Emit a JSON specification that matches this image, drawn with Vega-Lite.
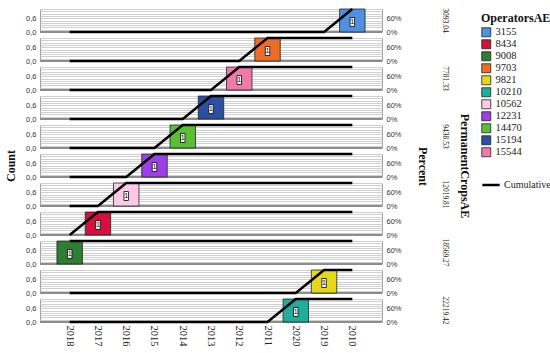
{
  "$schema": "https://vega.github.io/schema/vega-lite/v6.json",
  "padding": {"left": 4, "top": 4, "right": 0, "bottom": 0},
  "datasets": {
    "d": [
      {"op":"3155","year":"2018","count":0,"cum":0},{"op":"3155","year":"2017","count":0,"cum":0},{"op":"3155","year":"2016","count":0,"cum":0},{"op":"3155","year":"2015","count":0,"cum":0},{"op":"3155","year":"2014","count":0,"cum":0},{"op":"3155","year":"2013","count":0,"cum":0},{"op":"3155","year":"2012","count":0,"cum":0},{"op":"3155","year":"2011","count":0,"cum":0},{"op":"3155","year":"2020","count":0,"cum":0},{"op":"3155","year":"2019","count":0,"cum":0},{"op":"3155","year":"2010","count":1,"cum":1},
      {"op":"9703","year":"2018","count":0,"cum":0},{"op":"9703","year":"2017","count":0,"cum":0},{"op":"9703","year":"2016","count":0,"cum":0},{"op":"9703","year":"2015","count":0,"cum":0},{"op":"9703","year":"2014","count":0,"cum":0},{"op":"9703","year":"2013","count":0,"cum":0},{"op":"9703","year":"2012","count":0,"cum":0},{"op":"9703","year":"2011","count":1,"cum":1},{"op":"9703","year":"2020","count":0,"cum":1},{"op":"9703","year":"2019","count":0,"cum":1},{"op":"9703","year":"2010","count":0,"cum":1},
      {"op":"15544","year":"2018","count":0,"cum":0},{"op":"15544","year":"2017","count":0,"cum":0},{"op":"15544","year":"2016","count":0,"cum":0},{"op":"15544","year":"2015","count":0,"cum":0},{"op":"15544","year":"2014","count":0,"cum":0},{"op":"15544","year":"2013","count":0,"cum":0},{"op":"15544","year":"2012","count":1,"cum":1},{"op":"15544","year":"2011","count":0,"cum":1},{"op":"15544","year":"2020","count":0,"cum":1},{"op":"15544","year":"2019","count":0,"cum":1},{"op":"15544","year":"2010","count":0,"cum":1},
      {"op":"15194","year":"2018","count":0,"cum":0},{"op":"15194","year":"2017","count":0,"cum":0},{"op":"15194","year":"2016","count":0,"cum":0},{"op":"15194","year":"2015","count":0,"cum":0},{"op":"15194","year":"2014","count":0,"cum":0},{"op":"15194","year":"2013","count":1,"cum":1},{"op":"15194","year":"2012","count":0,"cum":1},{"op":"15194","year":"2011","count":0,"cum":1},{"op":"15194","year":"2020","count":0,"cum":1},{"op":"15194","year":"2019","count":0,"cum":1},{"op":"15194","year":"2010","count":0,"cum":1},
      {"op":"14470","year":"2018","count":0,"cum":0},{"op":"14470","year":"2017","count":0,"cum":0},{"op":"14470","year":"2016","count":0,"cum":0},{"op":"14470","year":"2015","count":0,"cum":0},{"op":"14470","year":"2014","count":1,"cum":1},{"op":"14470","year":"2013","count":0,"cum":1},{"op":"14470","year":"2012","count":0,"cum":1},{"op":"14470","year":"2011","count":0,"cum":1},{"op":"14470","year":"2020","count":0,"cum":1},{"op":"14470","year":"2019","count":0,"cum":1},{"op":"14470","year":"2010","count":0,"cum":1},
      {"op":"12231","year":"2018","count":0,"cum":0},{"op":"12231","year":"2017","count":0,"cum":0},{"op":"12231","year":"2016","count":0,"cum":0},{"op":"12231","year":"2015","count":1,"cum":1},{"op":"12231","year":"2014","count":0,"cum":1},{"op":"12231","year":"2013","count":0,"cum":1},{"op":"12231","year":"2012","count":0,"cum":1},{"op":"12231","year":"2011","count":0,"cum":1},{"op":"12231","year":"2020","count":0,"cum":1},{"op":"12231","year":"2019","count":0,"cum":1},{"op":"12231","year":"2010","count":0,"cum":1},
      {"op":"10562","year":"2018","count":0,"cum":0},{"op":"10562","year":"2017","count":0,"cum":0},{"op":"10562","year":"2016","count":1,"cum":1},{"op":"10562","year":"2015","count":0,"cum":1},{"op":"10562","year":"2014","count":0,"cum":1},{"op":"10562","year":"2013","count":0,"cum":1},{"op":"10562","year":"2012","count":0,"cum":1},{"op":"10562","year":"2011","count":0,"cum":1},{"op":"10562","year":"2020","count":0,"cum":1},{"op":"10562","year":"2019","count":0,"cum":1},{"op":"10562","year":"2010","count":0,"cum":1},
      {"op":"8434","year":"2018","count":0,"cum":0},{"op":"8434","year":"2017","count":1,"cum":1},{"op":"8434","year":"2016","count":0,"cum":1},{"op":"8434","year":"2015","count":0,"cum":1},{"op":"8434","year":"2014","count":0,"cum":1},{"op":"8434","year":"2013","count":0,"cum":1},{"op":"8434","year":"2012","count":0,"cum":1},{"op":"8434","year":"2011","count":0,"cum":1},{"op":"8434","year":"2020","count":0,"cum":1},{"op":"8434","year":"2019","count":0,"cum":1},{"op":"8434","year":"2010","count":0,"cum":1},
      {"op":"9008","year":"2018","count":1,"cum":1},{"op":"9008","year":"2017","count":0,"cum":1},{"op":"9008","year":"2016","count":0,"cum":1},{"op":"9008","year":"2015","count":0,"cum":1},{"op":"9008","year":"2014","count":0,"cum":1},{"op":"9008","year":"2013","count":0,"cum":1},{"op":"9008","year":"2012","count":0,"cum":1},{"op":"9008","year":"2011","count":0,"cum":1},{"op":"9008","year":"2020","count":0,"cum":1},{"op":"9008","year":"2019","count":0,"cum":1},{"op":"9008","year":"2010","count":0,"cum":1},
      {"op":"9821","year":"2018","count":0,"cum":0},{"op":"9821","year":"2017","count":0,"cum":0},{"op":"9821","year":"2016","count":0,"cum":0},{"op":"9821","year":"2015","count":0,"cum":0},{"op":"9821","year":"2014","count":0,"cum":0},{"op":"9821","year":"2013","count":0,"cum":0},{"op":"9821","year":"2012","count":0,"cum":0},{"op":"9821","year":"2011","count":0,"cum":0},{"op":"9821","year":"2020","count":0,"cum":0},{"op":"9821","year":"2019","count":1,"cum":1},{"op":"9821","year":"2010","count":0,"cum":1},
      {"op":"10210","year":"2018","count":0,"cum":0},{"op":"10210","year":"2017","count":0,"cum":0},{"op":"10210","year":"2016","count":0,"cum":0},{"op":"10210","year":"2015","count":0,"cum":0},{"op":"10210","year":"2014","count":0,"cum":0},{"op":"10210","year":"2013","count":0,"cum":0},{"op":"10210","year":"2012","count":0,"cum":0},{"op":"10210","year":"2011","count":0,"cum":0},{"op":"10210","year":"2020","count":1,"cum":1},{"op":"10210","year":"2019","count":0,"cum":1},{"op":"10210","year":"2010","count":0,"cum":1}
    ]
  },
  "data": {"name": "d"},
  "spacing": 14,
  "hconcat": [
    {
      "bounds": "flush",
      "facet": {
        "row": {
          "field": "op", "type": "nominal",
          "sort": ["3155","9703","15544","15194","14470","12231","10562","8434","9008","9821","10210"],
          "header": {"labels": false, "title": "Count", "titleOrient": "left", "titleAngle": -90, "titleFont": "Liberation Serif", "titleFontSize": 12, "titleFontWeight": "bold", "titleColor": "#111", "titlePadding": -15}
        }
      },
      "spacing": 6,
      "spec": {
        "width": 342,
        "height": 23,
        "encoding": {
          "x": {
            "field": "year", "type": "ordinal",
            "sort": ["2018","2017","2016","2015","2014","2013","2012","2011","2020","2019","2010"],
            "scale": {"paddingInner": 0.1, "paddingOuter": 0.6},
            "axis": {"title": null, "labelAngle": 90, "labelFont": "Liberation Serif", "labelFontSize": 10.5, "labelColor": "#222", "domain": false, "ticks": false, "labelPadding": 3}
          }
        },
        "layer": [
          {
            "mark": {"type": "rule", "color": "#8c8c8c", "strokeWidth": 1},
            "encoding": {
              "x": null,
              "y": {"datum": 0, "type": "quantitative", "scale": {"domain": [0, 1], "nice": false}, "axis": null}
            }
          },
          {
            "transform": [{"filter": "datum.count > 0"}],
            "mark": {"type": "bar", "stroke": "#222", "strokeWidth": 0.8},
            "encoding": {
              "y": {
                "field": "count", "type": "quantitative",
                "scale": {"domain": [0, 1], "nice": false},
                "axis": {
                  "orient": "left", "title": null,
                  "values": [0, 0.1, 0.2, 0.3, 0.4, 0.5, 0.6, 0.7, 0.8, 0.9, 1],
                  "labelExpr": "datum.value == 0 ? '0,0' : (abs(datum.value - 0.6) < 0.001 ? '0,6' : '')",
                  "labelOverlap": false, "labelBound": false,
                  "grid": true, "gridColor": "#cfcfcf", "gridWidth": 1,
                  "domainColor": "#999", "ticks": false, "labelPadding": 4,
                  "labelFont": "Liberation Sans", "labelFontSize": 7.5, "labelColor": "#333"
                }
              },
              "color": {
                "field": "op", "type": "nominal", "title": "OperatorsAE",
                "scale": {
                  "domain": ["3155","8434","9008","9703","9821","10210","10562","12231","14470","15194","15544"],
                  "range": ["#4f90e0","#d4113c","#2e7d32","#ef6c26","#e5d81c","#1fae9c","#fdc9e6","#9c40e6","#5abf33","#2d4fa3","#f27aab"]
                }
              }
            }
          },
          {
            "mark": {"type": "line", "strokeWidth": 2.5},
            "encoding": {
              "y": {
                "field": "cum", "type": "quantitative",
                "axis": {"orient": "right", "title": null, "values": [0, 0.6], "format": ".0%", "labelOverlap": false, "grid": false, "ticks": false, "domainColor": "#999", "labelPadding": 4, "labelFont": "Liberation Sans", "labelFontSize": 7.5, "labelColor": "#333"}
              },
              "stroke": {
                "datum": "Cumulative",
                "scale": {"range": ["black"]},
                "legend": {"title": null, "symbolType": "stroke", "symbolSize": 300, "symbolStrokeWidth": 2.5, "labelOffset": 3, "labelFontSize": 10}
              }
            }
          },
          {
            "transform": [{"filter": "datum.count > 0"}],
            "mark": {"type": "point", "shape": "M-0.5,-1H0.5V1H-0.5Z", "size": 81, "filled": true, "fill": "white", "stroke": "black", "strokeWidth": 0.8, "opacity": 1, "yOffset": 13},
            "encoding": {
              "y": {"field": "count", "type": "quantitative", "axis": null}
            }
          },
          {
            "transform": [{"filter": "datum.count > 0"}],
            "mark": {"type": "text", "font": "Liberation Sans", "fontSize": 7, "color": "black", "yOffset": 13},
            "encoding": {
              "y": {"field": "count", "type": "quantitative", "axis": null},
              "text": {"field": "count", "type": "quantitative"}
            }
          }
        ],
        "resolve": {"axis": {"y": "independent"}}
      }
    },
    {
      "bounds": "flush",
      "title": {"text": "Percent", "orient": "left", "angle": 90, "font": "Liberation Serif", "fontSize": 12, "fontWeight": "bold", "color": "#111", "offset": 0, "anchor": "middle"},
      "facet": {
        "row": {
          "field": "op", "type": "nominal",
          "sort": ["3155","9703","15544","15194","14470","12231","10562","8434","9008","9821","10210"],
          "header": {
            "labelOrient": "right", "labelAngle": 90, "labelAlign": "center",
            "labelExpr": "datum.value == '3155' ? '3093.04' : datum.value == '15544' ? '7781.33' : datum.value == '14470' ? '9438.53' : datum.value == '10562' ? '12019.81' : datum.value == '9008' ? '18569.27' : datum.value == '10210' ? '22219.42' : ''",
            "labelFont": "Liberation Serif", "labelFontSize": 7.5, "labelColor": "#222", "labelPadding": -2,
            "title": "PermanentCropsAE", "titleOrient": "right", "titleAngle": 90, "titleFont": "Liberation Serif", "titleFontSize": 12, "titleFontWeight": "bold", "titleColor": "#111", "titlePadding": -1
          }
        }
      },
      "spacing": 6,
      "spec": {"width": 1, "height": 23, "mark": {"type": "point", "opacity": 0}}
    }
  ],
  "config": {
    "view": {"stroke": null},
    "font": "Liberation Serif",
    "legend": {"titleFont": "Liberation Serif", "titleFontSize": 12, "titleFontWeight": "bold", "titleColor": "#111", "labelFont": "Liberation Serif", "labelFontSize": 10.5, "labelColor": "#222", "symbolType": "square", "symbolSize": 81, "symbolStrokeColor": "#222", "symbolStrokeWidth": 0.8, "rowPadding": -1, "offset": 6, "padding": 4, "titlePadding": 2}
  }
}
